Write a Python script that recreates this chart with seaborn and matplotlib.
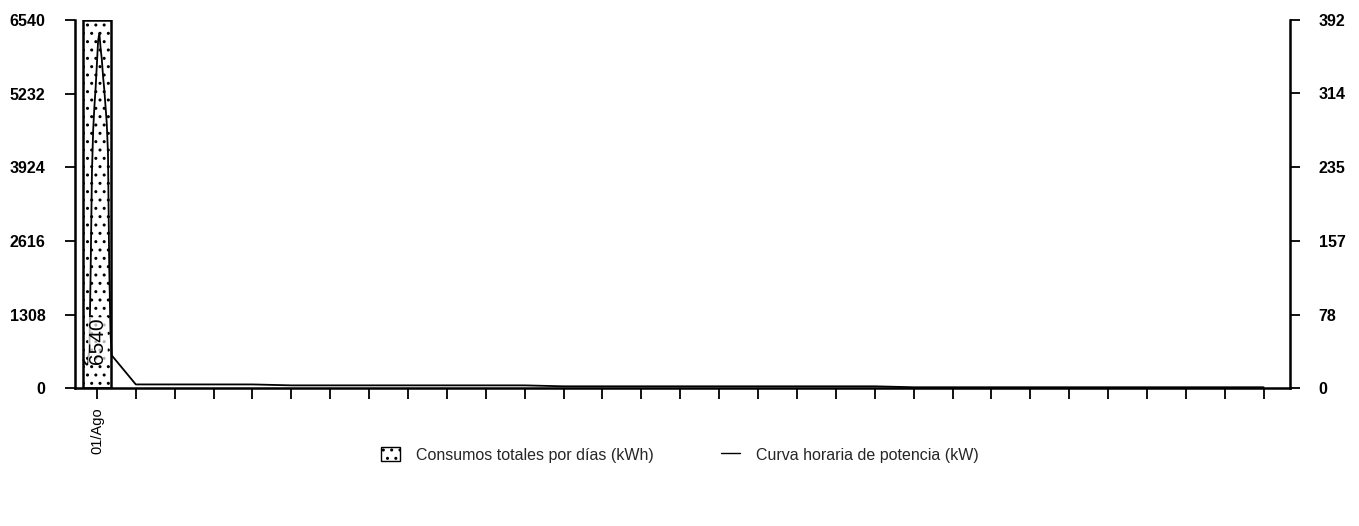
import numpy as np
import pandas as pd
import matplotlib
matplotlib.use("Agg")
import matplotlib.pyplot as plt
import seaborn as sns
from matplotlib.patches import Patch
from matplotlib.lines import Line2D

# Daily totals (kWh) - only the first day has a value
days = list(range(1, 32))
daily_kwh = [6540]
first_label = "01/Ago"

# Hourly power curve for day 1 (kW)
hourly_kw_day1 = [30, 28, 26, 25, 27, 45, 130, 230, 275, 300, 320, 345,
                  370, 378, 362, 350, 332, 318, 300, 282, 250, 130, 60, 35]
# Rest of the month: flat near zero (one point per day)
rest_kw = [4, 4, 4, 4, 3, 3, 3, 3, 3, 3, 3, 2, 2, 2, 2,
           2, 2, 2, 2, 2, 1, 1, 1, 1, 1, 1, 1, 1, 1, 1]

left_ticks = [0, 1308, 2616, 3924, 5232, 6540]
right_ticks = [0, 78, 157, 235, 314, 392]

sns.set_theme(style="ticks")
plt.rcParams['font.family'] = ['Liberation Sans', 'DejaVu Sans']
plt.rcParams['hatch.linewidth'] = 1.0

fig = plt.figure(figsize=(13.59, 5.26), dpi=100)
ax = fig.add_axes([0.055, 0.262, 0.894, 0.70])

# bar for day 1
ax.bar(days[:len(daily_kwh)], daily_kwh, width=0.74, facecolor="white",
       edgecolor="black", hatch="..", linewidth=1.8, zorder=2)

ax.set_xlim(0.43, 31.67)
ax.set_ylim(0, 6540)
ax.set_yticks(left_ticks)
ax.set_yticklabels([str(t) for t in left_ticks], fontsize=11.5, fontweight="bold")
ax.set_xticks(days)
ax.set_xticklabels([first_label] + [""] * (len(days) - 1), rotation=90,
                   fontsize=10.5)
ax.tick_params(axis="y", direction="out", length=7, width=1.3, colors="black",
               pad=14)
ax.tick_params(axis="x", direction="out", length=8, width=1.3, colors="black",
               pad=6)
for s in ["left", "bottom"]:
    ax.spines[s].set_linewidth(1.8)
    ax.spines[s].set_color("black")
ax.spines["top"].set_visible(False)
ax.spines["right"].set_visible(False)

# power curve on right axis
ax2 = ax.twinx()
x_hours = 0.65 + np.arange(len(hourly_kw_day1)) * (0.73 / (len(hourly_kw_day1) - 1))
curve = pd.DataFrame({
    "x": np.concatenate([x_hours, np.array(days[1:], dtype=float)]),
    "kw": hourly_kw_day1 + rest_kw,
})
sns.lineplot(data=curve, x="x", y="kw", ax=ax2, color="black", linewidth=1.3,
             zorder=3)
ax2.set_ylim(0, 392)
ax2.set_yticks(right_ticks)
ax2.set_yticklabels([str(t) for t in right_ticks], fontsize=11.5, fontweight="bold")
ax2.set_ylabel("")
ax2.set_xlabel("")
ax.set_xlabel("")
ax2.tick_params(axis="y", direction="out", length=7, width=1.3, colors="black",
                pad=14)
ax2.spines["right"].set_linewidth(1.8)
ax2.spines["right"].set_color("black")
ax2.spines["top"].set_visible(False)
ax2.spines["left"].set_visible(False)
ax2.spines["bottom"].set_visible(False)

# value label inside the bar (drawn on top of the curve)
ax2.text(days[0] + 0.02, 26, str(daily_kwh[0]), rotation=90, ha="center",
         va="bottom", fontsize=15, color="black", zorder=6,
         bbox=dict(facecolor="white", edgecolor="none", pad=0.5, alpha=0.7))

handles = [
    Patch(facecolor="white", edgecolor="black", hatch="..", linewidth=1.0),
    Line2D([0], [0], color="black", linewidth=1.0),
]
labels = ["Consumos totales por días (kWh)", "Curva horaria de potencia (kW)"]
fig.legend(handles, labels, loc="center", bbox_to_anchor=(0.5, 0.135), ncol=2,
           frameon=False, fontsize=11.5, handlelength=1.2, handleheight=1.0,
           handletextpad=1.0, columnspacing=4.2)

fig.savefig("out.png", dpi=100)
